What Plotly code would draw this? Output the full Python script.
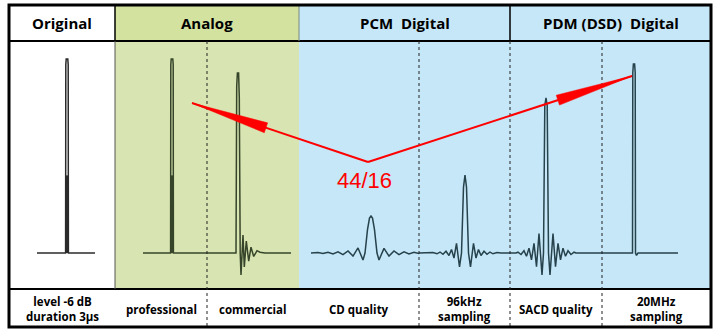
import math
import plotly.graph_objects as go

W, H = 720, 330

# ---------------- data ----------------
group_titles = ["Original", "Analog", "PCM  Digital", "PDM (DSD)  Digital"]
cell_labels = ["level -6 dB<br>duration 3µs", "professional", "commercial",
               "CD quality", "96kHz<br>sampling", "SACD quality", "20MHz<br>sampling"]
ratio_label = "44/16"

# pulse responses: time (µs, relative to pulse centre) and amplitude (original pulse = 1)
orig_t = [-30, -1.4, -1.2, -0.8, 0.8, 1.2, 1.4, 28]
orig_a = [0, 0, 0.97, 1.0, 1.0, 0.97, 0, 0]

prof_t = [-29, -1.4, -1.2, -0.8, 0.8, 1.2, 1.4, 40]
prof_a = [0, 0, 0.97, 1.0, 1.0, 0.97, 0, 0]

comm_t = [-40, -2.0, -1.3, -0.6, 0.6, 1.3, 2.2, 3.0, 5.0, 6.3, 8.3, 10.7, 13.0, 15.7, 19.0, 22.0, 27.0, 53.0]
comm_a = [0, 0, 0.86, 0.928, 0.928, 0.80, 0, -0.113, 0.093, -0.072, 0.062, -0.042, 0.030, -0.018, 0.012, 0.004, 0, 0]

cd_t = [-60, -53, -48, -43, -38, -33, -28, -23, -18, -13, -8, -6, -3.5, -1.5, 0,
        1.5, 3.5, 6, 8, 13, 18, 23, 28, 33, 38, 43, 48, 53, 60]
cd_a = [0, 0.002, -0.003, 0.004, -0.005, 0.006, -0.008, 0.011, -0.016, 0.026, -0.036, 0, 0.12, 0.180, 0.191,
        0.180, 0.12, 0, -0.036, 0.024, -0.016, 0.011, -0.008, 0.006, -0.005, 0.004, -0.003, 0.002, 0]

hr_t = [-46, -36, -32, -28, -25, -22, -19, -16, -13.5, -11, -8.5, -5.5, -3.5, -1.5, 0,
        1.5, 3.5, 5.5, 8.5, 11, 13.5, 16, 19, 22, 25, 28, 32, 36, 45]
hr_a = [0, 0, 0.003, -0.004, 0.005, -0.007, 0.009, -0.013, 0.018, -0.026, 0.050, -0.072, 0.0, 0.34, 0.402,
        0.34, 0.0, -0.072, 0.050, -0.026, 0.018, -0.013, 0.009, -0.007, 0.005, -0.004, 0.003, 0, 0]

sacd_t = [-36, -30, -28, -25, -22, -19.5, -17, -14.5, -12, -9.5, -7, -4, -2.5, -1.2, 0,
          1.2, 2.5, 4, 7, 9.5, 12, 14.5, 17, 19.5, 22, 25, 28, 30, 60]
sacd_a = [0, 0, 0.004, -0.008, 0.012, -0.017, 0.025, -0.035, 0.050, -0.070, 0.100, -0.113, 0.0, 0.76, 0.80,
          0.76, 0.0, -0.113, 0.100, -0.070, 0.050, -0.035, 0.025, -0.017, 0.012, -0.008, 0.004, 0, 0]

dsd_t = [-40, -1.5, -1.2, -0.6, 0.6, 1.2, 1.5, 2.5, 4, 44]
dsd_a = [0, 0, 0.93, 0.974, 0.974, 0.93, 0, -0.012, 0, 0]

spike_core = 0.40   # darker lower part of the 3 µs pulse

# ---------------- layout geometry (pixels) ----------------
BL, BR, BT, BB = 9, 711, 5, 327          # outer border
HEAD_Y, FOOT_Y = 41, 289
group_edges = [BL, 115, 299, 510, BR]
cell_edges = [BL, 115, 207, 299, 419, 510, 602, BR]
peak_px = [67, 172, 238, 371, 465, 546, 634]
BASE_PX, UNIT_PX = 253, 194

c_orig, c_analog, c_digital = "#2b2b2b", "#36452a", "#26424c"
green_head, green_body, blue = "#d3e29f", "#d8e4b1", "#c6e7f7"


def px(x):
    return x / W


def py(y):
    return 1 - y / H


fig = go.Figure()

waves = [(orig_t, orig_a, c_orig), (prof_t, prof_a, c_analog), (comm_t, comm_a, c_analog),
         (cd_t, cd_a, c_digital), (hr_t, hr_a, c_digital), (sacd_t, sacd_a, c_digital),
         (dsd_t, dsd_a, c_digital)]

for i, (t, a, col) in enumerate(waves):
    xa = "x" if i == 0 else f"x{i + 1}"
    fig.add_trace(go.Scatter(x=t, y=a, xaxis=xa, yaxis="y", mode="lines",
                             line=dict(color=col, width=1.5), hoverinfo="skip"))
    if i in (0, 1):
        fig.add_trace(go.Scatter(x=[0, 0], y=[0, spike_core], xaxis=xa, yaxis="y", mode="lines",
                                 line=dict(color=col, width=2.6), hoverinfo="skip"))

layout = dict(
    width=W, height=H, margin=dict(l=0, r=0, t=0, b=0),
    paper_bgcolor="white", plot_bgcolor="rgba(0,0,0,0)", showlegend=False,
    yaxis=dict(domain=[0, 1], range=[(BASE_PX - H) / UNIT_PX, BASE_PX / UNIT_PX],
               visible=False, fixedrange=True),
)
for i in range(7):
    l, r, p = cell_edges[i], cell_edges[i + 1], peak_px[i]
    key = "xaxis" if i == 0 else f"xaxis{i + 1}"
    layout[key] = dict(domain=[px(l), px(r)], range=[l - p, r - p], visible=False,
                       anchor="y", fixedrange=True)
fig.update_layout(**layout)

shapes = []


def rect(x0, y0, x1, y1, fill):
    shapes.append(dict(type="rect", xref="paper", yref="paper", x0=px(x0), x1=px(x1),
                       y0=py(y1), y1=py(y0), fillcolor=fill, line=dict(width=0), layer="below"))


def line(x0, y0, x1, y1, color="black", width=1, dash="solid", layer="above"):
    shapes.append(dict(type="line", xref="paper", yref="paper", x0=px(x0), x1=px(x1),
                       y0=py(y0), y1=py(y1), line=dict(color=color, width=width, dash=dash),
                       layer=layer))


# backgrounds
rect(115, BT, 299, HEAD_Y, green_head)
rect(115, HEAD_Y, 299, FOOT_Y, green_body)
rect(299, BT, BR, FOOT_Y, blue)

# grid lines
line(BL, HEAD_Y, BR, HEAD_Y, width=2)
line(BL, FOOT_Y, BR, FOOT_Y, width=2)
line(115, BT, 115, HEAD_Y, width=1.5)
line(299, BT, 299, HEAD_Y, color="#7a8a80", width=1)
line(510, BT, 510, HEAD_Y, width=1.5)
line(115, HEAD_Y, 115, FOOT_Y, color="#555555", width=1)
for xd in (207, 419, 510, 602):
    line(xd, HEAD_Y, xd, BB, color="#222222", width=1, dash="dot")
shapes.append(dict(type="rect", xref="paper", yref="paper", x0=px(BL), x1=px(BR),
                   y0=py(BB), y1=py(BT), line=dict(color="black", width=3),
                   fillcolor="rgba(0,0,0,0)", layer="above"))

# red arrows from the 44/16 vertex
V = (368, 162)
tips = [(192, 103), (632, 76)]
RED = "#ff0000"
for tip in tips:
    line(V[0], V[1], tip[0], tip[1], color=RED, width=2)
    dx, dy = V[0] - tip[0], V[1] - tip[1]
    n = math.hypot(dx, dy)
    ux, uy = dx / n, dy / n
    bx, by = tip[0] + ux * 78, tip[1] + uy * 78
    pxp, pyp = -uy * 5.2, ux * 5.2
    pts = [tip, (bx + pxp, by + pyp), (bx - pxp, by - pyp)]
    path = "M " + " L ".join(f"{px(x):.5f},{py(y):.5f}" for x, y in pts) + " Z"
    shapes.append(dict(type="path", xref="paper", yref="paper", path=path,
                       fillcolor=RED, line=dict(color=RED, width=0.5), layer="above"))

fig.update_layout(shapes=shapes)

annotations = []
head_font = dict(family="Open Sans", size=15, color="black", weight="bold")
for i, title in enumerate(group_titles):
    cx = (group_edges[i] + group_edges[i + 1]) / 2
    annotations.append(dict(x=px(cx), y=py(23), xref="paper", yref="paper", text=title,
                            showarrow=False, xanchor="center", yanchor="middle", font=head_font))
foot_font = dict(family="Open Sans", size=11.5, color="black", weight="bold")
for i, lab in enumerate(cell_labels):
    cx = (cell_edges[i] + cell_edges[i + 1]) / 2
    annotations.append(dict(x=px(cx), y=py(309), xref="paper", yref="paper", text=lab,
                            showarrow=False, xanchor="center", yanchor="middle", font=foot_font))
annotations.append(dict(x=px(364), y=py(180), xref="paper", yref="paper", text=ratio_label,
                        showarrow=False, xanchor="center", yanchor="middle",
                        font=dict(family="Liberation Sans", size=22, color=RED)))
fig.update_layout(annotations=annotations)

fig.write_html("out.html")
